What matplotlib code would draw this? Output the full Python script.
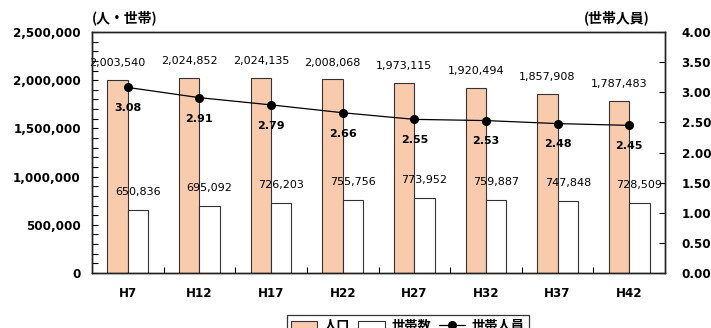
import numpy as np
import matplotlib.pyplot as plt
from matplotlib.ticker import FuncFormatter, MultipleLocator

# 将来推計：人口・世帯数・世帯人員
years = ['H7', 'H12', 'H17', 'H22', 'H27', 'H32', 'H37', 'H42']
population = [2003540, 2024852, 2024135, 2008068, 1973115, 1920494, 1857908, 1787483]
households = [650836, 695092, 726203, 755756, 773952, 759887, 747848, 728509]
per_household = [3.08, 2.91, 2.79, 2.66, 2.55, 2.53, 2.48, 2.45]

JP = ['Noto Sans CJK JP', 'DejaVu Sans']
plt.rcParams['font.family'] = ['DejaVu Sans', 'Noto Sans CJK JP']

fig = plt.figure(figsize=(7.11, 3.28), dpi=100)
ax = fig.add_axes([92 / 711, 1 - 273 / 328, 573 / 711, 241 / 328])
ax2 = ax.twinx()

x = np.arange(len(years))
w = 0.285
b1 = ax.bar(x - w / 2, population, w, color='#F8CBAD', edgecolor='#333333', linewidth=0.8,
            label='人口', zorder=2)
b2 = ax.bar(x + w / 2, households, w, color='white', edgecolor='#333333', linewidth=0.8,
            label='世帯数', zorder=2)
ln, = ax2.plot(x, per_household, color='black', lw=0.9, marker='o', markersize=5.5,
               label='世帯人員')

for xi, v in zip(x, population):
    ax.annotate(f'{v:,}', (xi - w / 2, v), xytext=(0, 12), textcoords='offset points',
                ha='center', va='center', fontsize=8)
for xi, v in zip(x, households):
    ax.annotate(f'{v:,}', (xi + w / 2, v), xytext=(0, 13), textcoords='offset points',
                ha='center', va='center', fontsize=8)
for xi, v in zip(x, per_household):
    ax2.annotate(f'{v:.2f}', (xi, v), xytext=(0, -15), textcoords='offset points',
                 ha='center', va='center', fontsize=8, fontweight='bold')

ax.set_xlim(-0.5, len(years) - 0.5)
ax.set_ylim(0, 2500000)
ax2.set_ylim(0, 4)

ax.yaxis.set_major_locator(MultipleLocator(500000))
ax.yaxis.set_minor_locator(MultipleLocator(100000))
ax.yaxis.set_major_formatter(FuncFormatter(lambda v, p: f'{int(v):,}'))
ax2.yaxis.set_major_locator(MultipleLocator(0.5))
ax2.yaxis.set_major_formatter(FuncFormatter(lambda v, p: f'{v:.2f}'))

ax.set_xticks(x)
ax.set_xticklabels(years)
ax.set_xticks(np.arange(0.5, len(years) - 0.5), minor=True)
ax.tick_params(axis='x', which='major', length=0, pad=10)
ax.tick_params(axis='x', which='minor', direction='in', length=4, width=0.8)
ax.tick_params(axis='y', which='both', direction='in', length=4, width=0.8, pad=8)
ax2.tick_params(axis='y', direction='in', length=4, width=0.8, pad=12)

for a in (ax, ax2):
    for s in a.spines.values():
        s.set_color('#222222')
        s.set_linewidth(1.0)
    for lbl in a.get_yticklabels() + a.get_xticklabels():
        lbl.set_fontweight('bold')
        lbl.set_fontsize(8.6)

fig.text(92 / 711, 1 - 18 / 328, '(人・世帯)', family=JP, fontsize=10, fontweight='bold',
         ha='left', va='center')
fig.text(650 / 711, 1 - 18 / 328, '(世帯人員)', family=JP, fontsize=10, fontweight='bold',
         ha='right', va='center')

leg = fig.legend([b1, b2, ln], ['人口', '世帯数', '世帯人員'], loc='upper left',
                 bbox_to_anchor=(287 / 711, 1 - 315 / 328), ncol=3, frameon=True,
                 fancybox=False, edgecolor='black', prop={'family': JP, 'size': 9.5, 'weight': 'bold'},
                 handlelength=2.0, handletextpad=0.5, columnspacing=0.6, borderpad=0.3,
                 borderaxespad=0)
leg.get_frame().set_linewidth(0.9)

fig.savefig('out.png', dpi=100)
